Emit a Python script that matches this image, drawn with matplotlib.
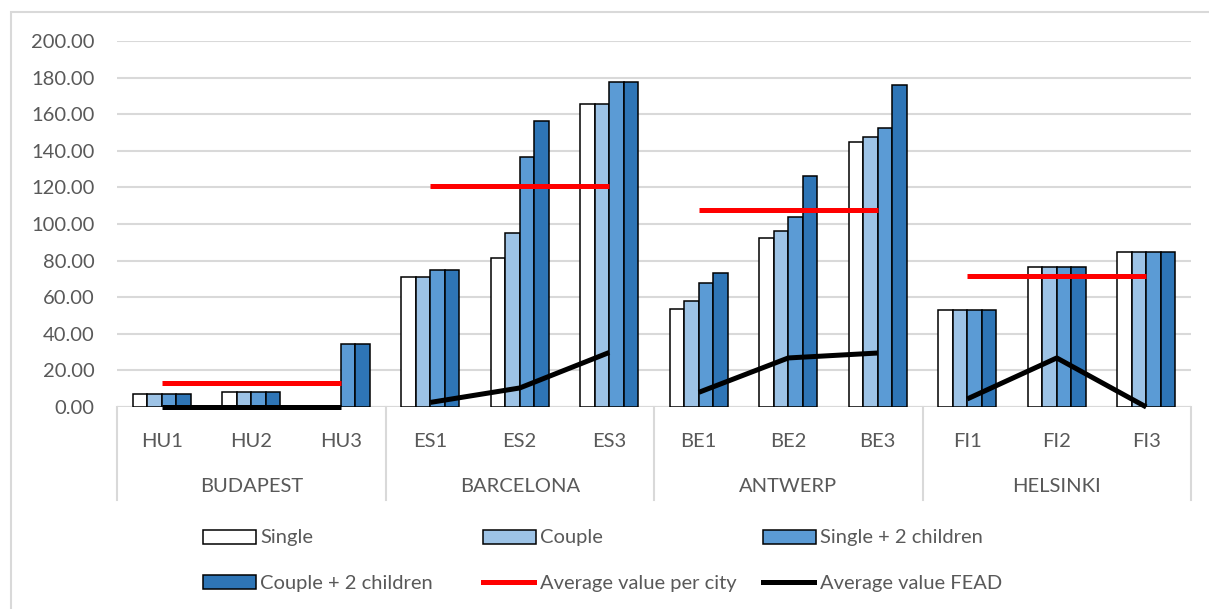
import numpy as np
import matplotlib.pyplot as plt
from matplotlib.patches import Rectangle
from matplotlib.lines import Line2D

# household budgets per test case
categories = ['HU1', 'HU2', 'HU3', 'ES1', 'ES2', 'ES3',
              'BE1', 'BE2', 'BE3', 'FI1', 'FI2', 'FI3']
cities = ['BUDAPEST', 'BARCELONA', 'ANTWERP', 'HELSINKI']

single = [7.3, 8.2, 0, 71.0, 81.6, 165.7, 53.5, 92.1, 145.0, 53.0, 76.7, 84.5]
couple = [7.3, 8.2, 0, 71.0, 94.9, 165.7, 58.1, 96.2, 147.5, 53.0, 76.7, 84.5]
single_2c = [7.3, 8.2, 34.5, 74.6, 136.4, 177.4, 67.9, 104.0, 152.3, 53.0, 76.7, 84.5]
couple_2c = [7.3, 8.2, 34.5, 74.6, 156.1, 177.4, 73.2, 126.4, 176.0, 53.0, 76.7, 84.5]
city_avg = [13.1, 120.5, 107.6, 71.4]
fead = [0, 0, 0, 2.5, 10.4, 29.8, 8.0, 26.8, 29.5, 4.4, 26.8, 0]

series = [('Single', single, '#FFFFFF'),
          ('Couple', couple, '#9DC3E6'),
          ('Single + 2 children', single_2c, '#5B9BD5'),
          ('Couple + 2 children', couple_2c, '#2E75B6')]

W, H = 1209, 609
plt.rcParams['font.family'] = ['Lato', 'DejaVu Sans']
txt = '#595959'
grid = '#D9D9D9'
fs = 14.5

fig = plt.figure(figsize=(W / 100, H / 100), dpi=100)

def fx(x):
    return x / W

def fy(y):
    return 1 - y / H

ax = fig.add_axes([fx(117), fy(407), fx(1191) - fx(117), fy(41) - fy(407)])

x = np.arange(len(categories))
w = 0.163
for i, (name, vals, col) in enumerate(series):
    ax.bar(x + (i - 1.5) * w, vals, w, color=col, edgecolor='black',
           linewidth=1.1, zorder=2)

# city averages drawn from first to last case of each city
for k, v in enumerate(city_avg):
    ax.plot([3 * k, 3 * k + 2], [v, v], color='#FF0000', lw=3.6,
            solid_capstyle='butt', zorder=3, clip_on=False)
    ax.plot(x[3 * k:3 * k + 3], fead[3 * k:3 * k + 3], color='black', lw=3.6,
            solid_capstyle='butt', zorder=3, clip_on=False)

ax.set_xlim(-0.5, len(categories) - 0.5)
ax.set_ylim(0, 200)
ax.set_yticks(np.arange(0, 201, 20))
ax.set_yticklabels([f'{v:.2f}' for v in np.arange(0, 201, 20)])
ax.tick_params(axis='y', length=0, pad=16, labelsize=fs, labelcolor=txt)
ax.set_xticks([])
ax.grid(axis='y', color=grid, lw=1.5, zorder=0)
ax.set_axisbelow(True)
for s in ax.spines.values():
    s.set_visible(False)
ax.axhline(0, color=grid, lw=1.5, zorder=1)

# two-level category axis
tr = ax.get_xaxis_transform()
for i, c in enumerate(categories):
    ax.text(i, -0.093, c, transform=tr, ha='center', va='center',
            fontsize=fs, color=txt)
for k, c in enumerate(cities):
    ax.text(3 * k + 1, -0.216, c, transform=tr, ha='center', va='center',
            fontsize=fs, color=txt)
for b in [-0.5, 2.5, 5.5, 8.5, 11.5]:
    ax.plot([b, b], [0, -0.254], transform=tr, color=grid, lw=1.5,
            clip_on=False)

# chart frame
fig.patches.append(Rectangle((fx(11), fy(620)), fx(1220) - fx(11),
                             fy(12) - fy(620), transform=fig.transFigure,
                             fill=False, edgecolor=grid, lw=1.5))

# legend
cols = [203, 483, 763]
rows = [537, 582]
entries = [(s[0], 'patch', s[2]) for s in series] + \
          [('Average value per city', 'line', '#FF0000'),
           ('Average value FEAD', 'line', 'black')]
for j, (name, kind, col) in enumerate(entries):
    cx = cols[j % 3]
    cy = rows[j // 3]
    if kind == 'patch':
        fig.patches.append(Rectangle((fx(cx), fy(cy + 7)), fx(53), 14 / H,
                                     transform=fig.transFigure,
                                     facecolor=col, edgecolor='black', lw=1.1))
    else:
        fig.lines.append(Line2D([fx(cx), fx(cx + 51)], [fy(cy), fy(cy)],
                                transform=fig.transFigure, color=col, lw=3.6))
    fig.text(fx(cx + 57), fy(cy + 1), name, ha='left', va='center',
             fontsize=fs, color=txt)

fig.savefig('out.png', dpi=100)
